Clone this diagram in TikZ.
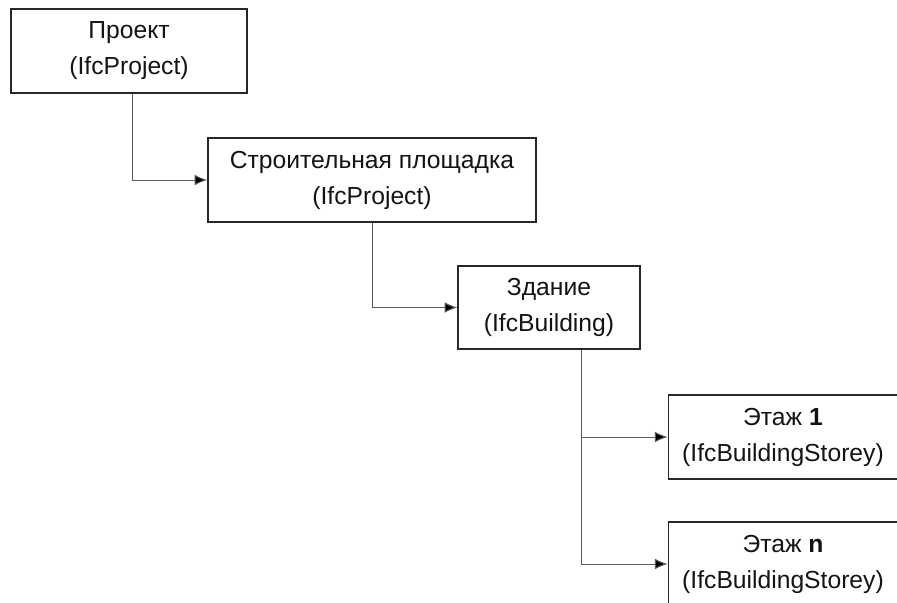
\documentclass[tikz,border=0pt]{standalone}
\usepackage{fontspec}
\setmainfont{Liberation Sans}
\usetikzlibrary{arrows.meta}

\definecolor{boxline}{RGB}{40,40,40}
\definecolor{linkline}{RGB}{90,90,90}
\definecolor{labeltext}{RGB}{20,20,20}

\tikzset{every picture/.style={line width=0.75pt}}
\tikzset{
  entity/.style={draw=boxline, line width=1.1pt, fill=white, text=labeltext,
    align=center, inner sep=0pt, font=\fontsize{18.5}{27}\selectfont},
  link/.style={draw=linkline, line width=0.75pt, -{Latex[length=9.5pt,width=8pt,fill=black]}}
}

\begin{document}
\begin{tikzpicture}[x=0.75pt,y=0.75pt,yscale=-1,xscale=1]
	\useasboundingbox (0,0) rectangle (897,603);
	\clip (0,0) rectangle (897,603);

	%Shape: Rectangle [project]
	\node [entity, minimum width=177pt, minimum height=63pt] (proj) at (129,51) {Проект\\(IfcProject)};
	%Shape: Rectangle [site]
	\node [entity, minimum width=246pt, minimum height=63pt] (site) at (372,180) {Строительная площадка\\(IfcProject)};
	%Shape: Rectangle [building]
	\node [entity, minimum width=136.5pt, minimum height=62.5pt] (bldg) at (549,307.5) {Здание\\(IfcBuilding)};
	%Shape: Rectangle [storey 1]
	\node [entity, minimum width=172pt, minimum height=63pt] (st1) at (783,437) {Этаж \textbf{1}\\(IfcBuildingStorey)};
	%Shape: Rectangle [storey n]
	\node [entity, minimum width=172pt, minimum height=63pt] (stn) at (783,564) {Этаж \textbf{n}\\(IfcBuildingStorey)};

	%Straight Lines [project -> site]
	\draw [link] ([xshift=2.25pt]proj.south) |- (site.west);
	%Straight Lines [site -> building]
	\draw [link] (site.south) |- (bldg.west);
	%Straight Lines [building -> storeys]
	\draw [link] ([xshift=24pt]bldg.south) |- (st1.west);
	\draw [link] ([xshift=24pt]bldg.south) |- (stn.west);

\end{tikzpicture}
\end{document}
